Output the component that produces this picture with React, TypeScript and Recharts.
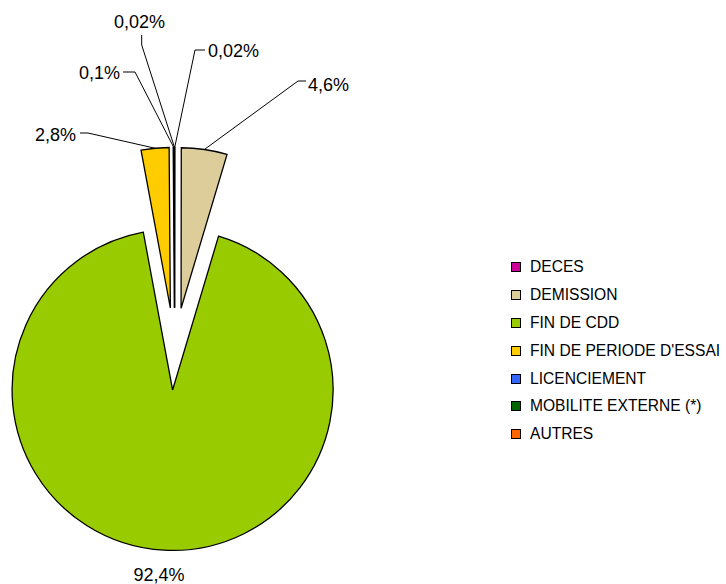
import React from 'react';
import { PieChart, Pie, Sector, Legend } from 'recharts';

const CATEGORIES = [
  'DECES',
  'DEMISSION',
  'FIN DE CDD',
  "FIN DE PERIODE D'ESSAI",
  'LICENCIEMENT',
  'MOBILITE EXTERNE (*)',
  'AUTRES',
];
const VALUES = [0.02, 4.6, 92.4, 2.8, 0.1, 0.02, 0];
const VALUE_LABELS = ['0,02%', '4,6%', '92,4%', '2,8%', '0,1%', '0,02%', ''];
const COLORS = ['#CC0099', '#DDCD9B', '#99CC00', '#FFCC00', '#3366FF', '#006600', '#FF6600'];

const data = CATEGORIES.map((name, i) => ({ name, value: VALUES[i] }));

// layout / style
const FONT = '"Liberation Sans", Arial, Helvetica, sans-serif';
const CX = 174.6;
const CY = 352.4;
const R = 160.5;
const EXPLODE = [44.6, 44.6, 37.6, 44.6, 44.6, 44.6, 44.6];
// label leader layout relative to pie centre: elbow, end of line, text anchor point
type LL = { elbow?: [number, number]; end?: [number, number]; text: [number, number]; anchor: 'start' | 'end' | 'middle' };
const LABEL_LAYOUT: LL[] = [
  { elbow: [20.4, -302.4], end: [30.4, -302.4], text: [33.4, -301.4], anchor: 'start' },
  { elbow: [123.4, -271.4], end: [131.4, -271.4], text: [133.4, -267.6], anchor: 'start' },
  { text: [-15.6, 222.6], anchor: 'middle' },
  { elbow: [-86.6, -219.4], end: [-94.6, -219.4], text: [-98.6, -217.6], anchor: 'end' },
  { elbow: [-39.6, -280.4], end: [-51.6, -280.4], text: [-54.6, -279.4], anchor: 'end' },
  { elbow: [-32.9, -307.4], end: [-32.9, -317.4], text: [-35.1, -330.4], anchor: 'middle' },
  { text: [0, 0], anchor: 'middle' },
];

const RAD = Math.PI / 180;
const polar = (cx: number, cy: number, r: number, angle: number) => ({
  x: cx + r * Math.cos(-angle * RAD),
  y: cy + r * Math.sin(-angle * RAD),
});

const renderSlice = (props: any) => {
  const { cx, cy, outerRadius, startAngle, endAngle, index } = props;
  const mid = (startAngle + endAngle) / 2;
  const off = polar(0, 0, EXPLODE[index], mid);
  const ecx = cx + off.x;
  const ecy = cy + off.y;
  const lay = LABEL_LAYOUT[index];
  const start = polar(ecx, ecy, outerRadius, mid);
  const label = VALUE_LABELS[index];
  return (
    <g>
      <Sector
        cx={ecx}
        cy={ecy}
        innerRadius={0}
        outerRadius={outerRadius}
        startAngle={startAngle}
        endAngle={endAngle}
        fill={COLORS[index]}
        stroke="#000"
        strokeWidth={1.3}
      />
      {label && lay.elbow && lay.end ? (
        <polyline
          points={`${start.x},${start.y} ${cx + lay.elbow[0]},${cy + lay.elbow[1]} ${cx + lay.end[0]},${cy + lay.end[1]}`}
          fill="none"
          stroke="#000"
          strokeWidth={1}
        />
      ) : null}
      {label ? (
        <text
          x={cx + lay.text[0]}
          y={cy + lay.text[1]}
          textAnchor={lay.anchor}
          dominantBaseline="central"
          fontSize={18}
          fontFamily={FONT}
          fill="#000"
        >
          {label}
        </text>
      ) : null}
    </g>
  );
};

const renderLegend = () => (
  <div style={{ fontFamily: FONT, fontSize: 15.6, color: '#000' }}>
    {CATEGORIES.map((n, i) => (
      <div key={n} style={{ height: 27.9, display: 'flex', alignItems: 'center', whiteSpace: 'nowrap' }}>
        <span
          style={{
            display: 'inline-block',
            width: 8,
            height: 8,
            background: COLORS[i],
            border: '1px solid #000',
            marginRight: 9,
          }}
        />
        <span>{n}</span>
      </div>
    ))}
  </div>
);

export default function App() {
  return (
    <div style={{ position: 'absolute', left: 0, top: 0, width: 726, height: 584, background: '#fff' }}>
      <PieChart width={726} height={584} margin={{ top: 0, right: 0, bottom: 0, left: 0 }}>
        <Pie
          data={data}
          dataKey="value"
          nameKey="name"
          cx={CX}
          cy={CY}
          innerRadius={0}
          outerRadius={R}
          startAngle={90}
          endAngle={-270}
          fill="none"
          stroke="none"
          label={renderSlice}
          labelLine={false}
          isAnimationActive={false}
        />
        <Legend
          layout="vertical"
          align="right"
          verticalAlign="middle"
          content={renderLegend}
          wrapperStyle={{ left: 511, top: 253, right: 'auto', bottom: 'auto', width: 215 }}
        />
      </PieChart>
    </div>
  );
}
